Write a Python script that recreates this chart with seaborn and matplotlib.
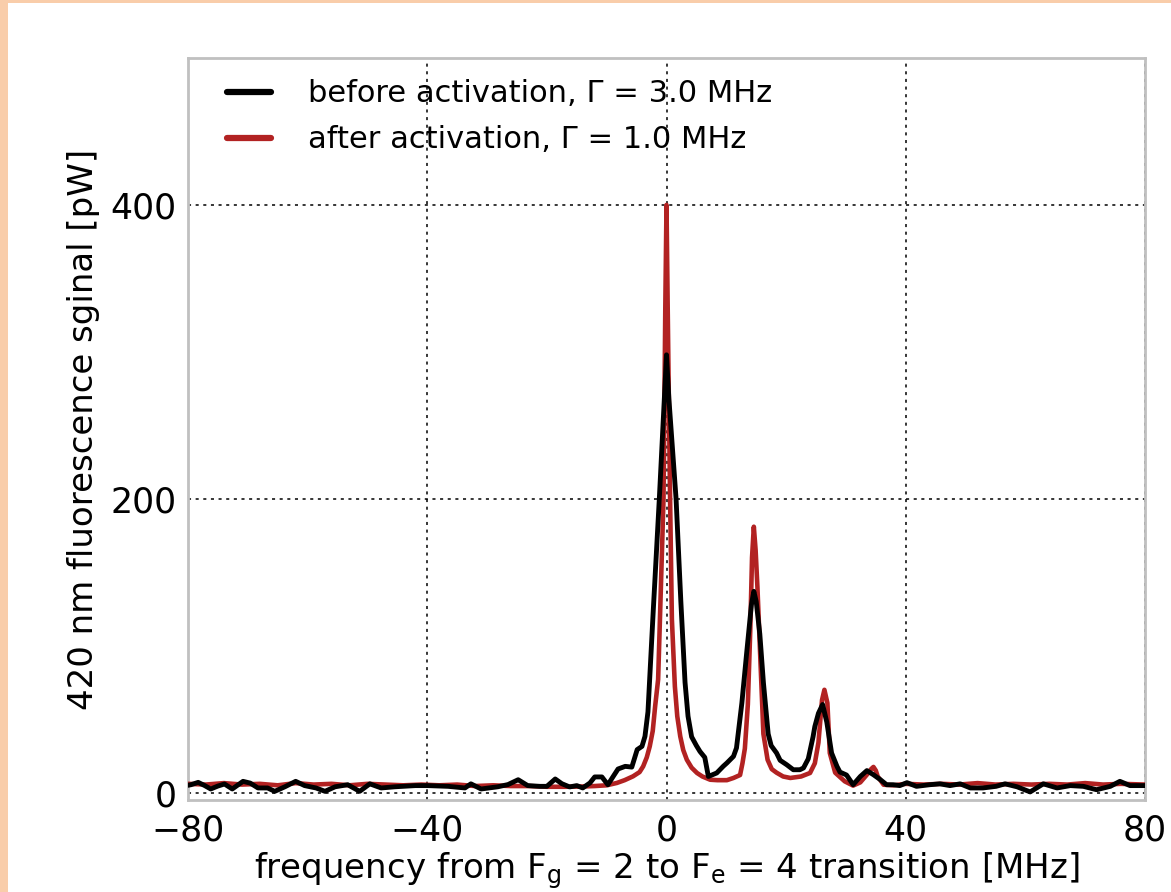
import numpy as np
import pandas as pd
import matplotlib
matplotlib.use("Agg")
import matplotlib.pyplot as plt
from matplotlib.patches import Rectangle
from matplotlib.lines import Line2D
import seaborn as sns

# Fluorescence spectra, frequency detuning in MHz and signal in pW
before_freq = [-80, -79.5, -78.3, -77.2, -76.2, -75, -73.9, -72.6, -70.8, -69.6, -68.3, -66.7,
               -65.5, -63.8, -62, -60.5, -58.6, -57.1, -55.4, -53.3, -51.3, -49.6, -47.7, -45.4,
               -42, -39.9, -36.5, -33.7, -32.7, -31, -28.2, -26.5, -24.8, -23.2, -21.2, -20,
               -18.6, -17.5, -16.2, -15, -14, -12.8, -12, -10.8, -9.8, -8.9, -8.1, -6.9, -5.8,
               -4.9, -4.1, -3.6, -3.1, -2.2, -1.2, -0.4, 0.0, 0.4, 1.6, 2.4, 3.1, 3.6, 4.2,
               5.0, 5.6, 6.4, 7.0, 8.4, 9.5, 10.1, 11.2, 11.7, 12.6, 13.4, 14.2, 14.6, 15.0,
               15.6, 16.2, 17.0, 17.5, 18.4, 19.0, 20.1, 21.2, 22.3, 22.9, 23.7, 24.5, 24.8,
               25.4, 26.1, 26.8, 27.6, 28.5, 29.0, 30.1, 31.2, 32.4, 33.5, 34.6, 35.7, 36.8,
               37.9, 39.0, 40.2, 41.8, 44, 45.7, 47.4, 49.1, 50.8, 52.9, 55.1, 56.6, 58.6,
               60.8, 63, 65.3, 67.5, 69.7, 71.9, 74.2, 75.8, 77.5, 80]
before_signal = [5, 5.4, 7, 4.8, 2.5, 4.5, 5.9, 2.5, 7.7, 6.5, 3.2, 3.2,
                 0.9, 4, 7.7, 4.8, 3.2, 0.9, 4, 5.4, 0.9, 6, 3.2, 4,
                 4.8, 4.8, 4.3, 3.2, 6, 2.5, 4, 5.5, 8.8, 4.8, 4.3, 4.3,
                 9.3, 6.1, 3.9, 4.8, 3.2, 6.6, 10.7, 10.7, 5.4, 11.1, 16.1, 17.9, 17.4,
                 29.3, 31.5, 38.3, 55, 125, 200, 265, 298, 268, 200, 130, 75, 52, 38,
                 32, 28, 24, 11, 13.4, 18, 20.2, 24.7, 30.4, 61, 95, 128, 137, 130,
                 108, 75, 40, 32, 27, 22, 19, 15.6, 15.6, 16.8, 23, 38, 45,
                 54, 60, 48, 27, 17.9, 14, 12, 5.4, 11, 15, 12.2, 9, 5.4,
                 5.4, 4.8, 6.8, 4.3, 5.4, 6, 4.8, 6, 3.2, 3.2, 4.3, 6, 4,
                 0.5, 6, 3.2, 4.8, 4.3, 2, 4.3, 7.7, 4.8, 4.8]

after_freq = [-80, -77, -74, -71, -68, -65, -62, -59, -56, -53, -50, -47, -44, -41, -38, -35,
              -32, -29, -26, -23, -20, -17, -14, -12, -10, -8.3, -7, -5.6, -4.5, -3.9, -3.3,
              -2.8, -2.3, -1.9, -1.4, -1.1, -0.5, -0.2, 0, 0.2, 0.6, 0.9, 1.4, 1.8, 2.3, 2.8,
              3.4, 4.2, 5.1, 6.0, 7.3, 8.5, 10.1, 11.2, 12.3, 12.7, 13.1, 13.6, 14.0, 14.3,
              14.6, 14.9, 15.2, 15.6, 15.9, 16.2, 16.9, 17.6, 18.4, 19.5, 20.7, 22.5, 24.0,
              24.8, 25.4, 26.0, 26.4, 26.9, 27.3, 28.2, 29.8, 31.2, 32.4, 33.5, 34.2, 34.6,
              35.0, 35.3, 36.3, 38, 40, 43, 46, 49, 52, 55, 58, 61, 64, 67, 70, 73, 76, 80]
after_signal = [6, 5.5, 6.5, 5.5, 6, 5, 6.5, 5.5, 6, 5, 6, 5.5, 5, 5.5, 5, 5.5,
                4.5, 5, 4.5, 4.5, 4, 4, 4.2, 4.5, 5, 6.6, 8.5, 11.1, 14, 17.9, 24,
                31.5, 42, 58.7, 77, 117.7, 200, 330, 400, 330, 200, 118, 72.3, 52, 38.3, 29,
                22.4, 17, 13.4, 11, 8.8, 8.5, 8.5, 10, 12, 20, 30, 60, 110, 160,
                181, 165, 140, 100, 70, 40, 22.4, 16, 13.6, 11, 10, 11, 13.4,
                20, 34, 63, 70, 61, 27, 13.6, 7.7, 4.8, 7, 12.2, 16, 17.5,
                15, 11.1, 5.4, 5, 6, 5.5, 6, 5.5, 6.5, 5.5, 6, 5.5, 6, 5.5, 6.5, 5.5, 6, 5.5]

labels = ["before activation, \u0393 = 3.0 MHz", "after activation, \u0393 = 1.0 MHz"]
colors = ["#000000", "#b22222"]

x_ticks = [-80, -40, 0, 40, 80]
y_ticks = [0, 200, 400]

df = pd.concat([
    pd.DataFrame({"freq": before_freq, "signal": before_signal, "trace": labels[0]}),
    pd.DataFrame({"freq": after_freq, "signal": after_signal, "trace": labels[1]}),
], ignore_index=True)

sns.set_style("white")
plt.rcParams["font.family"] = ["DejaVu Sans"]
plt.rcParams["mathtext.fontset"] = "dejavusans"
plt.rcParams["text.color"] = "black"
plt.rcParams["axes.labelcolor"] = "black"

fig = plt.figure(figsize=(11.71, 8.92), dpi=100)
fig.patch.set_facecolor("white")
# thin peach frame along the top and left edges
fig.patches.append(Rectangle((0, 0), 8 / 1171, 1, transform=fig.transFigure,
                             facecolor="#f9cdaa", edgecolor="none", zorder=0))
fig.patches.append(Rectangle((0, 1 - 3 / 892), 1, 3 / 892, transform=fig.transFigure,
                             facecolor="#f9cdaa", edgecolor="none", zorder=0))

ax = fig.add_axes([188 / 1171, 1 - 800 / 892, (1145 - 188) / 1171, (800 - 58) / 892])

# draw after-activation first so the black trace sits on top
sns.lineplot(data=df[df.trace == labels[1]], x="freq", y="signal", color=colors[1],
             lw=3.3, ax=ax, sort=False, legend=False, zorder=3)
sns.lineplot(data=df[df.trace == labels[0]], x="freq", y="signal", color=colors[0],
             lw=3.5, ax=ax, sort=False, legend=False, zorder=4)

ax.set_xlim(-80, 80)
ax.set_ylim(-5, 500)
ax.set_xticks(x_ticks)
ax.set_yticks(y_ticks)
ax.set_xticklabels([f"\u2212{abs(v)}" if v < 0 else str(v) for v in x_ticks])
ax.tick_params(axis="both", direction="in", length=7, width=1.2, color="#333333",
               labelsize=25, labelcolor="black")
ax.tick_params(axis="x", pad=10)
ax.tick_params(axis="y", pad=8)
ax.grid(True, color="black", linestyle=(0, (2, 3)), linewidth=1.1)

for s in ax.spines.values():
    s.set_color("#c0c0c0")
    s.set_linewidth(2)

ax.set_xlabel(r"frequency from F$_\mathrm{g}$ = 2 to F$_\mathrm{e}$ = 4 transition [MHz]",
              fontsize=24.5, labelpad=2)
ax.set_ylabel("420 nm fluorescence sginal [pW]", fontsize=24.5, labelpad=8)

handles = [Line2D([], [], color=c, lw=4.5) for c in colors]
ax.legend(handles, labels, loc="upper left", frameon=False, fontsize=22,
          handlelength=1.45, handletextpad=1.2, labelspacing=0.55,
          borderaxespad=0.3, bbox_to_anchor=(0.018, 1.0))

fig.savefig("out.png", dpi=100)
